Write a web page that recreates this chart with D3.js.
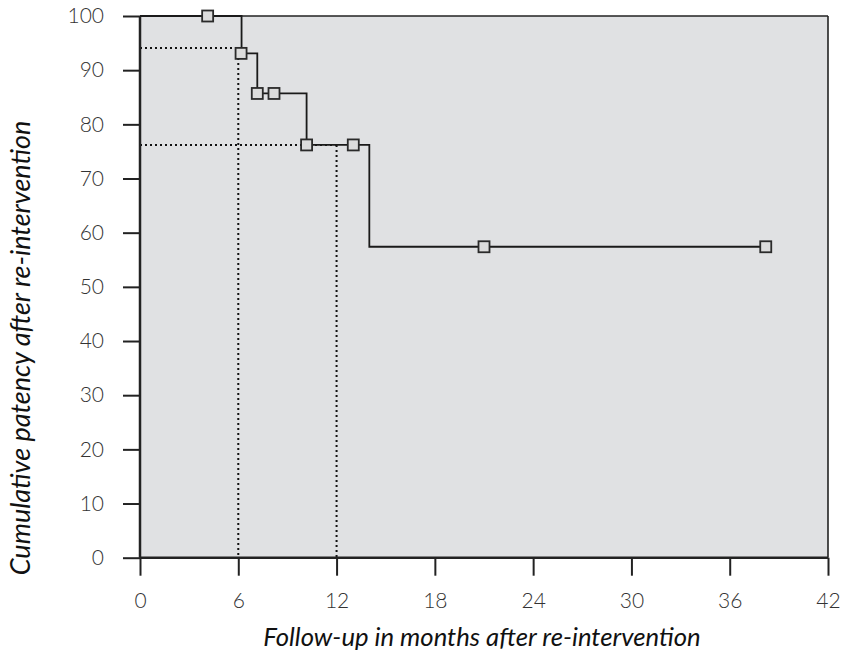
<!DOCTYPE html>
<html><head><meta charset="utf-8">
<script src="https://cdn.jsdelivr.net/npm/d3@7"></script>
<style>
body{margin:0;background:#fff;}
text{font-family:Lato,"Open Sans",sans-serif;}
</style></head>
<body><svg id="c" width="843" height="656"></svg>
<script>
const xTicks = [0, 6, 12, 18, 24, 30, 36, 42];
const yTicks = [0, 10, 20, 30, 40, 50, 60, 70, 80, 90, 100];
// Kaplan-Meier step curve (months, cumulative patency %)
const stepMonths = [0, 6.2, 7.16, 10.17, 14.0, 38.2];
const stepValues = [100, 93.1, 85.7, 76.2, 57.4, 57.4];
// censored markers
const markMonths = [4.13, 6.17, 7.16, 8.18, 10.17, 13.02, 21.0, 38.2];
const markValues = [100, 93.1, 85.7, 85.7, 76.2, 76.2, 57.4, 57.4];
// median reference lines (dotted)
const refMonths = [6, 12];
const refValues = [94.1, 76.2];

const svg = d3.select("#c");
const x = d3.scaleLinear().domain([0, 42]).range([140, 828]);
const y = d3.scaleLinear().domain([0, 100]).range([557.7, 16]);

svg.append("rect").attr("x", x(0)).attr("y", y(100))
  .attr("width", x(42) - x(0)).attr("height", y(0) - y(100)).attr("fill", "#e0e1e3");

// dotted reference lines
refMonths.forEach((m, i) => {
  const v = refValues[i];
  svg.append("path")
    .attr("d", `M${x(0)},${y(v)}H${x(m)}M${x(m)},${y(v)}V${y(0)}`)
    .attr("fill", "none").attr("stroke", "#111").attr("stroke-width", 2)
    .attr("stroke-dasharray", "2,3");
});

// axes
const yAxis = d3.axisLeft(y).tickValues(yTicks).tickSize(17).tickPadding(19);
const gy = svg.append("g").attr("transform", `translate(${x(0)},0)`).call(yAxis);
gy.select(".domain").remove();
gy.selectAll(".tick line").attr("stroke", "#222").attr("stroke-width", 2);
gy.selectAll(".tick text").attr("font-size", 21).attr("font-weight", 300).attr("fill", "#333");

const xAxis = d3.axisBottom(x).tickValues(xTicks).tickSize(18).tickPadding(17);
const gx = svg.append("g").attr("transform", `translate(0,${y(0)})`).call(xAxis);
gx.select(".domain").remove();
gx.selectAll(".tick line").attr("stroke", "#222").attr("stroke-width", 2);
gx.selectAll(".tick text").attr("font-size", 21).attr("font-weight", 300).attr("fill", "#333");

// frame
svg.append("line").attr("x1", x(0)).attr("x2", x(42)).attr("y1", y(0)).attr("y2", y(0))
  .attr("stroke", "#222").attr("stroke-width", 2.5);
svg.append("line").attr("x1", x(0)).attr("x2", x(0)).attr("y1", y(0)).attr("y2", y(100))
  .attr("stroke", "#222").attr("stroke-width", 2.5);
svg.append("line").attr("x1", x(0)).attr("x2", x(42)).attr("y1", y(100)).attr("y2", y(100))
  .attr("stroke", "#222").attr("stroke-width", 1.6);
svg.append("line").attr("x1", x(42)).attr("x2", x(42)).attr("y1", y(0)).attr("y2", y(100))
  .attr("stroke", "#222").attr("stroke-width", 1.6);

// step curve
const pts = stepMonths.map((m, i) => [m, stepValues[i]]);
const line = d3.line().x(d => x(d[0])).y(d => y(d[1])).curve(d3.curveStepAfter);
svg.append("path").datum(pts).attr("d", line)
  .attr("fill", "none").attr("stroke", "#1a1a1a").attr("stroke-width", 1.8);

// markers
const ms = 11;
svg.selectAll("rect.m").data(markMonths).enter().append("rect").attr("class", "m")
  .attr("x", d => x(d) - ms / 2).attr("y", (d, i) => y(markValues[i]) - ms / 2)
  .attr("width", ms).attr("height", ms)
  .attr("fill", "#dcdcdc").attr("stroke", "#2a2a2a").attr("stroke-width", 1.8);

// titles
svg.append("text").attr("x", 482).attr("y", 646).attr("text-anchor", "middle")
  .attr("font-size", 25.7).attr("font-style", "italic").attr("fill", "#111")
  .text("Follow-up in months after re-intervention");
svg.append("text").attr("transform", "translate(30,348) rotate(-90)").attr("text-anchor", "middle")
  .attr("font-size", 27).attr("font-style", "italic").attr("fill", "#111")
  .text("Cumulative patency after re-intervention");
</script></body></html>
